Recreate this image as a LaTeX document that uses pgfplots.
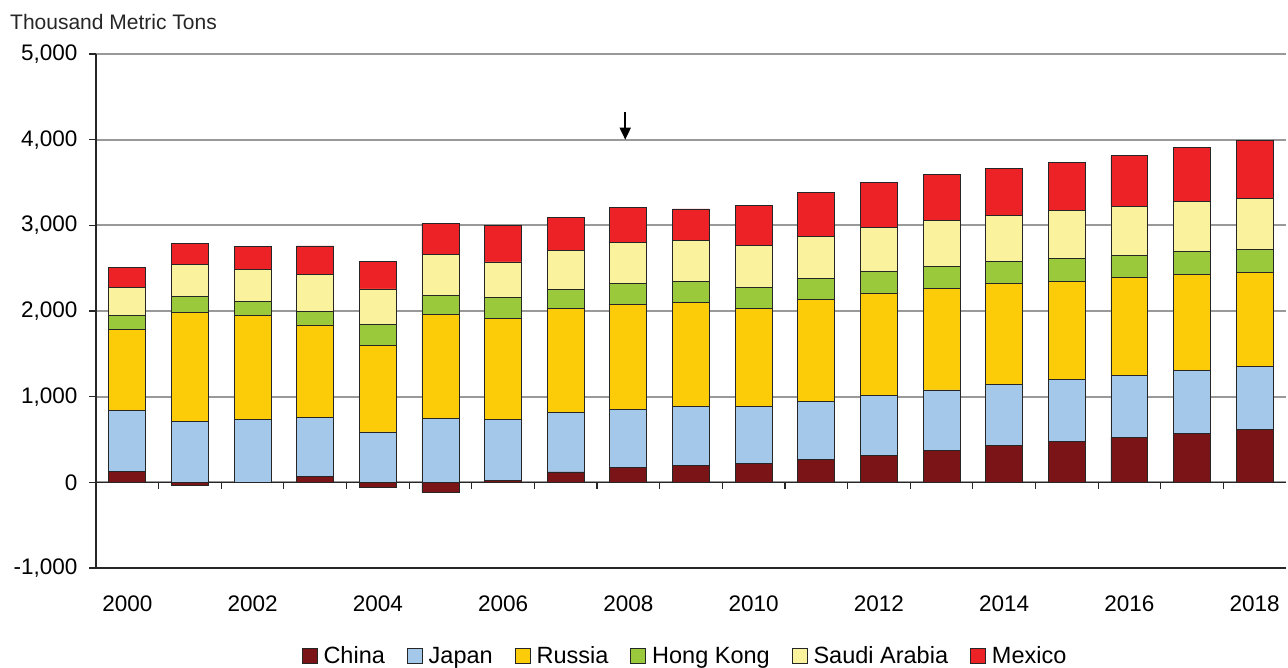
\documentclass[border=0pt]{standalone}
\usepackage{pgfplots}
\pgfplotsset{compat=1.18}
\usepackage{pgfplotstable}
\usepackage{fontspec}
\setmainfont{Liberation Sans}
\usetikzlibrary{arrows.meta}
\definecolor{cChina}{HTML}{7B1416}
\definecolor{cJapan}{HTML}{A3C8EA}
\definecolor{cRussia}{HTML}{FDCC08}
\definecolor{cHK}{HTML}{9ACA3C}
\definecolor{cSA}{HTML}{FAF29C}
\definecolor{cMex}{HTML}{EC2227}
\pgfplotstableread{
x china jap rus hk sa mex
0 130 714 942 163 331 230
1 -40 708 1276 183 378 245
2 0 739 1210 164 369 269
3 66 693 1078 159 428 335
4 -62 588 1007 245 417 323
5 -117 743 1218 222 475 365
6 23 712 1183 245 409 424
7 121 692 1214 222 455 385
8 175 673 1230 245 475 412
9 202 685 1210 245 479 370
10 218 669 1144 245 491 470
11 265 684 1183 249 494 514
12 319 697 1190 253 514 529
13 377 701 1190 253 533 537
14 429 713 1174 257 546 550
15 472 729 1146 261 566 557
16 526 725 1135 261 577 589
17 573 737 1119 261 593 623
18 616 741 1095 269 597 670
}\data
\pgfplotsset{
  sq/.style={fill=#1, draw=black!85, line width=0.9pt,
    legend image code/.code={\draw[fill=#1, draw=black!85, line width=0.8pt] (0pt,-7.5pt) rectangle (15pt,7.5pt);}},
}
\begin{document}
\begin{tikzpicture}
\path[use as bounding box] (0,0) rectangle (1288pt,668pt);
\node[anchor=west, inner sep=0pt, font=\fontsize{21}{25}\selectfont, text=black!85] at (10pt,646pt) {Thousand Metric Tons};
\begin{axis}[
  at={(96pt,100pt)}, anchor=south west,
  scale only axis, width=1190pt, height=514pt,
  xmin=-0.5, xmax=18.5, ymin=-1000, ymax=5000,
  ybar stacked, bar width=0.59,
  xtick={0,2,...,18},
  xticklabels={2000,2002,2004,2006,2008,2010,2012,2014,2016,2018},
  xtick style={draw=none},
  ytick={-1000,0,...,5000},
  ymajorgrids, grid style={color=black!40, line width=2pt},
  axis x line*=bottom, axis y line*=left,
  axis line style={black!85, line width=1.6pt},
  tick align=outside, major tick length=7pt,
  ytick style={black!85, line width=1.2pt},
  ticklabel style={font=\fontsize{22.5}{27}\selectfont, text=black},
  /pgf/number format/assume math mode=true,
  /pgf/number format/1000 sep={,},
  yticklabel style={xshift=-8pt},
  xticklabel style={yshift=-17pt},
  legend style={at={(0.495,-0.171)}, anchor=center, draw=none, fill=none,
    legend columns=-1, font=\fontsize{23.5}{28}\selectfont,
    /tikz/every odd column/.append style={column sep=4pt},
    /tikz/every even column/.append style={column sep=20pt}},
]
\addplot[sq=cChina] table[x=x, y=china] {\data};
\addplot[sq=cJapan] table[x=x, y=jap] {\data};
\addplot[sq=cRussia] table[x=x, y=rus] {\data};
\addplot[sq=cHK] table[x=x, y=hk] {\data};
\addplot[sq=cSA] table[x=x, y=sa] {\data};
\addplot[sq=cMex] table[x=x, y=mex] {\data};
\legend{China,Japan,Russia,Hong Kong,Saudi Arabia,Mexico}
\draw[black!85, line width=1.5pt] (axis cs:-0.5,0) -- (axis cs:18.5,0);
\pgfplotsinvokeforeach{0,...,17}{
  \draw[black!85, line width=1.2pt] (axis cs:#1+0.5,0) -- ++(0pt,-7pt);
}
\draw[-{Triangle[length=12pt,width=11pt]}, line width=1.8pt] (axis cs:7.95,4320) -- (axis cs:7.95,4000);
\end{axis}
\end{tikzpicture}
\end{document}
